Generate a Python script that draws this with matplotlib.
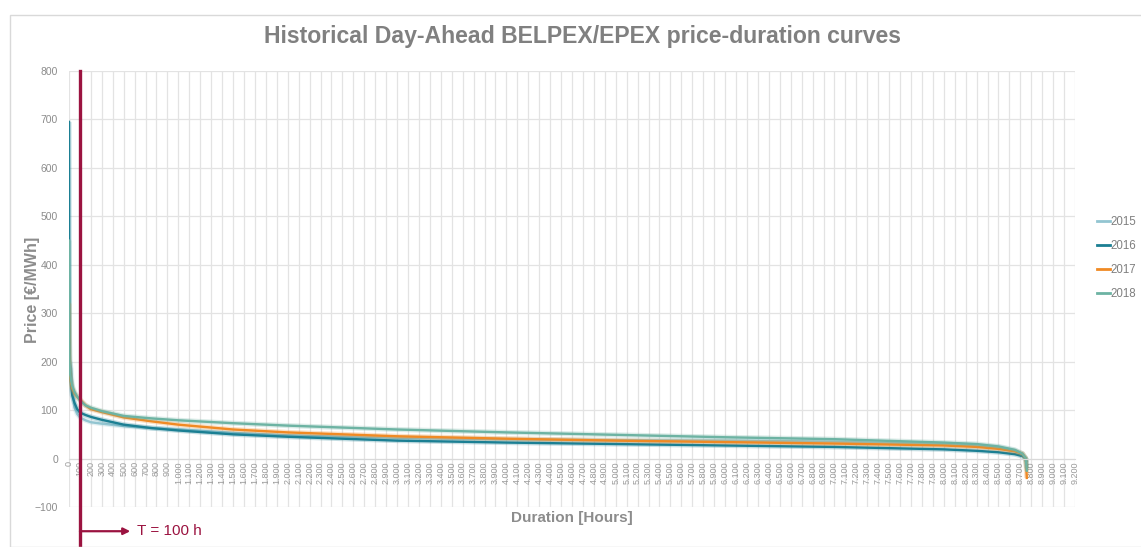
import matplotlib
matplotlib.use("Agg")
import matplotlib.pyplot as plt
from matplotlib.patches import Rectangle
from matplotlib.ticker import FuncFormatter, MultipleLocator

plt.rcParams['font.family'] = ['Liberation Sans', 'DejaVu Sans']

hours = [0, 2, 5, 10, 20, 30, 50, 75, 100, 150, 200, 300, 500, 750, 1000, 1500,
         2000, 3000, 4000, 5000, 6000, 7000, 8000, 8300, 8500, 8650, 8720, 8750, 8759]
price_2015 = [200, 200, 199, 197, 185, 150, 105, 92, 85, 79, 75, 72, 67, 63, 60, 53,
              48, 43, 40, 38, 37, 35, 30, 27, 24, 17, 10, 0, -5]
price_2016 = [695, 400, 250, 180, 150, 130, 115, 102, 95, 90, 86, 80, 70, 63, 58, 50,
              45, 37, 33, 30, 27, 24, 19, 16, 13, 9, 5, 0, -20]
price_2017 = [320, 220, 190, 170, 155, 145, 135, 127, 122, 110, 102, 96, 85, 77, 70, 60,
              54, 46, 41, 37, 34, 31, 27, 24, 20, 15, 10, 0, -40]
price_2018 = [450, 250, 200, 175, 160, 150, 138, 128, 120, 110, 105, 98, 88, 83, 79, 73,
              68, 60, 54, 49, 44, 40, 33, 30, 25, 18, 10, 0, -25]

series = [("2015", price_2015, "#93c5d1"),
          ("2016", price_2016, "#1b7f93"),
          ("2017", price_2017, "#f08a24"),
          ("2018", price_2018, "#6db3a3")]

marker_hour = 100
arrow_end_hour = 560

fig = plt.figure(figsize=(11.41, 5.47), dpi=100)
fig.patches.append(Rectangle((10 / 1141, 0), 1.0, 1 - 15 / 547, transform=fig.transFigure,
                             fill=False, edgecolor="#d9d9d9", linewidth=1.0))
ax = fig.add_axes([69 / 1141, 1 - 507 / 547, (1075 - 69) / 1141, (507 - 71) / 547])

ax.set_xlim(0, 9200)
ax.set_ylim(-100, 800)
ax.xaxis.set_major_locator(MultipleLocator(100))
ax.yaxis.set_major_locator(MultipleLocator(100))
ax.grid(True, color="#e3e3e3", linewidth=0.9)
ax.set_axisbelow(True)

for name, vals, col in series:
    ax.plot(hours, vals, color=col, linewidth=3.6, alpha=0.25, solid_capstyle="butt")
    ax.plot(hours, vals, color=col, linewidth=1.7, label=name)

def fmt(x, pos):
    return f"{int(round(x)):,}".replace(",", ".")

ax.xaxis.set_major_formatter(FuncFormatter(fmt))
for s in ["top", "right", "left"]:
    ax.spines[s].set_visible(False)
ax.spines["bottom"].set_position(("data", 0))
ax.spines["bottom"].set_color("#d9d9d9")
ax.tick_params(axis="x", labelrotation=90, labelsize=6.5, labelcolor="#9a9a9a",
               length=0, pad=2)
ax.tick_params(axis="y", labelsize=7.5, labelcolor="#8c8c8c", length=0, pad=8)

fig.text(32 / 1141, 1 - 290 / 547, "Price [€/MWh]", ha="center", va="center", rotation=90,
         fontsize=11.5, fontweight="bold", color="#8c8c8c")
fig.text(572 / 1141, 1 - 518 / 547, "Duration [Hours]", ha="center", va="center",
         fontsize=11, fontweight="bold", color="#8c8c8c")
fig.text(582 / 1141, 1 - 37 / 547, "Historical Day-Ahead BELPEX/EPEX price-duration curves",
         ha="center", va="center", fontsize=16.6, fontweight="bold", color="#808080")

red = "#9b1340"
ax.plot([marker_hour, marker_hour], [800, -178], color=red, linewidth=2.4, clip_on=False,
        zorder=5)
ax.annotate("", xy=(arrow_end_hour, -150), xytext=(marker_hour, -150),
            xycoords="data", annotation_clip=False,
            arrowprops=dict(arrowstyle="-|>", color=red, lw=1.6, mutation_scale=10,
                            shrinkA=0, shrinkB=0))
ax.text(arrow_end_hour + 60, -150, "T = 100 h", color=red, fontsize=11, va="center",
        ha="left", clip_on=False)

leg = fig.legend(loc="upper left", bbox_to_anchor=(1097 / 1141, 1 - 216 / 547),
                 frameon=False, fontsize=8.3, handlelength=1.1, handletextpad=0.1,
                 labelspacing=1.05, labelcolor="#7f7f7f", borderaxespad=0, borderpad=0)
for h in leg.legend_handles:
    h.set_linewidth(2.0)

fig.savefig("out.png", dpi=100)
